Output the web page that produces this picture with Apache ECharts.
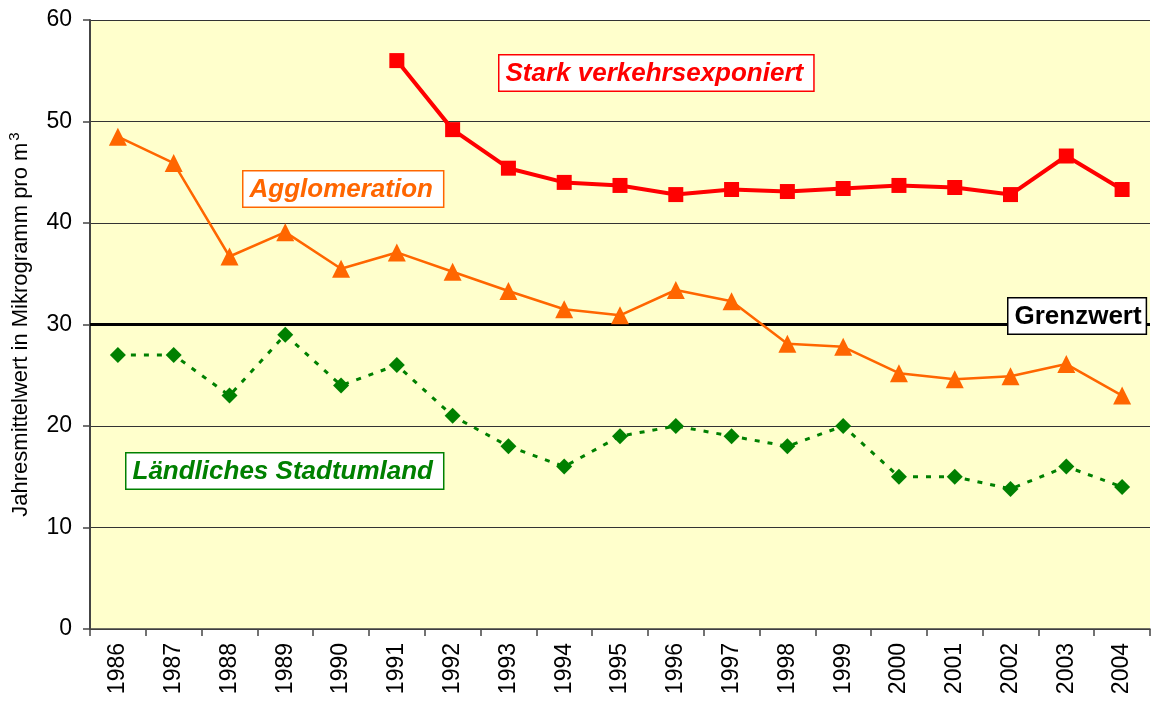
<!DOCTYPE html>
<html>
<head>
<meta charset="utf-8">
<script src="https://cdn.jsdelivr.net/npm/echarts@6/dist/echarts.min.js"></script>
<style>
  html, body { margin: 0; padding: 0; background: #fff; }
  #chart { width: 1155px; height: 702px; }
</style>
</head>
<body>
<div id="chart"></div>
<script>
// Jahre
let years = ['1986','1987','1988','1989','1990','1991','1992','1993','1994','1995',
             '1996','1997','1998','1999','2000','2001','2002','2003','2004'];

// Stark verkehrsexponiert (erst ab 1991)
let starkValues = [null, null, null, null, null, 56.0, 49.2, 45.4, 44.0, 43.7,
                   42.8, 43.3, 43.1, 43.4, 43.7, 43.5, 42.8, 46.6, 43.3];
// Agglomeration
let agglomValues = [48.5, 45.9, 36.7, 39.1, 35.5, 37.1, 35.2, 33.3, 31.5, 30.9,
                    33.4, 32.3, 28.1, 27.8, 25.2, 24.6, 24.9, 26.1, 23.0];
// Ländliches Stadtumland
let laendlValues = [27, 27, 23, 29, 24, 26, 21, 18, 16, 19,
                    20, 19, 18, 20, 15, 15, 13.8, 16, 14];

let grenzwert = 30;

var chart = echarts.init(document.getElementById('chart'));

// Beschriftungsbox im Diagramm
function labelBox(text, color, left, top, font, padRight) {
    return {
        type: 'text',
        left: left,
        top: top,
        z: 100,
        style: {
            text: text,
            fill: color,
            font: font || 'italic bold 26px "Liberation Sans", Arial, sans-serif',
            backgroundColor: '#fff',
            borderColor: color,
            borderWidth: 1.5,
            padding: [5, padRight || 10, 4, 6]
        }
    };
}

var option = {
    animation: false,
    backgroundColor: '#fff',
    textStyle: { fontFamily: '"Liberation Sans", Arial, sans-serif' },
    grid: {
        left: 90,
        right: 5,
        top: 20,
        bottom: 73,
        outerBoundsMode: 'none',
        containLabel: false,
        show: true,
        backgroundColor: '#FFFFCC',
        borderWidth: 0
    },
    xAxis: {
        type: 'category',
        data: years,
        boundaryGap: true,
        axisLine: { lineStyle: { color: '#444', width: 1.5 } },
        axisTick: { show: true, length: 7, lineStyle: { color: '#444', width: 1.5 } },
        axisLabel: {
            rotate: 90,
            color: '#000',
            fontSize: 23,
            margin: 14,
            interval: 0
        },
        splitLine: { show: false }
    },
    yAxis: {
        type: 'value',
        min: 0,
        max: 60,
        interval: 10,
        name: 'Jahresmittelwert in Mikrogramm pro m{sup|3}',
        nameLocation: 'middle',
        nameGap: 56,
        nameTextStyle: {
            color: '#000',
            fontSize: 22,
            rich: {
                sup: { fontSize: 15, verticalAlign: 'top', padding: [0, 0, 12, 2] }
            }
        },
        axisLine: { show: true, lineStyle: { color: '#444', width: 2 } },
        axisTick: { show: true, length: 7, lineStyle: { color: '#444', width: 1.5 } },
        axisLabel: { color: '#000', fontSize: 23, margin: 18 },
        splitLine: { show: true, lineStyle: { color: '#333', width: 1 } }
    },
    series: [
        {
            name: 'Ländliches Stadtumland',
            type: 'line',
            data: laendlValues,
            symbol: 'diamond',
            symbolSize: 16,
            itemStyle: { color: '#008000' },
            lineStyle: { color: '#008000', width: 3, type: [5, 8] },
            z: 3
        },
        {
            name: 'Agglomeration',
            type: 'line',
            data: agglomValues,
            symbol: 'triangle',
            symbolSize: 18,
            itemStyle: { color: '#FF6600' },
            lineStyle: { color: '#FF6600', width: 2.5 },
            z: 4,
            markLine: {
                silent: true,
                symbol: 'none',
                label: { show: false },
                lineStyle: { color: '#000', width: 3, type: 'solid' },
                data: [{ yAxis: grenzwert }],
                z: 2
            }
        },
        {
            name: 'Stark verkehrsexponiert',
            type: 'line',
            data: starkValues,
            symbol: 'rect',
            symbolSize: 15,
            itemStyle: { color: '#FF0000' },
            lineStyle: { color: '#FF0000', width: 4 },
            z: 5
        }
    ],
    graphic: [
        labelBox('Stark verkehrsexponiert', '#FF0000', 498, 54),
        labelBox('Agglomeration', '#FF6600', 242, 170),
        labelBox('Ländliches Stadtumland', '#008000', 125, 452),
        labelBox('Grenzwert', '#000', 1007, 297, 'bold 26px "Liberation Sans", Arial, sans-serif', 4)
    ]
};

chart.setOption(option);
</script>
</body>
</html>
